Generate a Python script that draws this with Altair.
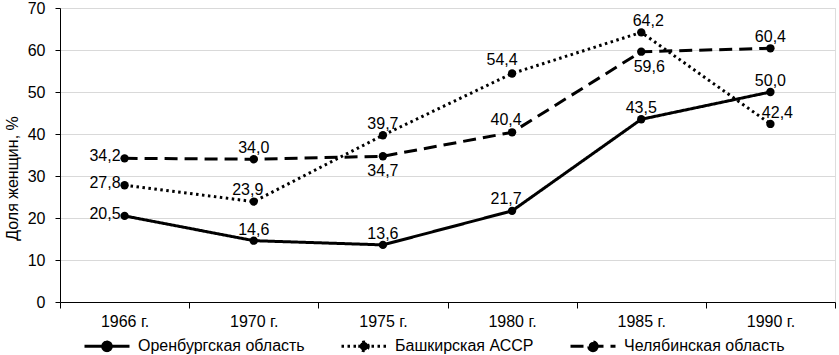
import altair as alt
import pandas as pd

years = ["1966 г.", "1970 г.", "1975 г.", "1980 г.", "1985 г.", "1990 г."]
series_names = ["Оренбургская область", "Башкирская АССР", "Челябинская область"]
orenburg = [20.5, 14.6, 13.6, 21.7, 43.5, 50.0]
bashkir = [27.8, 23.9, 39.7, 54.4, 64.2, 42.4]
chelyab = [34.2, 34.0, 34.7, 40.4, 59.6, 60.4]

rows = []
for si, (name, vals) in enumerate(zip(series_names, [orenburg, bashkir, chelyab])):
    for yi, (yr, v) in enumerate(zip(years, vals)):
        rows.append({"year": yr, "series": name, "value": v,
                     "label": f"{v:.1f}".replace(".", ","), "si": si, "yi": yi})
df = pd.DataFrame(rows)

# label placement styles: key -> (align, dx, dy)
styles = {
    "left": ("right", -4, 3),
    "above": ("center", 0, -6),
    "above_l": ("center", -6, -7),
    "above_ll": ("center", -10, -9),
    "above_r": ("center", 7, -6),
    "below": ("center", 0, 20),
    "below_r": ("center", 8, 20),
}
overrides = {(2, 2): "below", (2, 4): "below_r", (1, 4): "above_r", (2, 3): "above_l",
             (0, 3): "above_l", (1, 1): "above_l", (1, 3): "above_ll",
             (2, 5): "above", (1, 5): "above_r"}
df["place"] = [("left" if r.yi == 0 else overrides.get((r.si, r.yi), "above"))
               for r in df.itertuples()]

FONT = "Liberation Sans"
dash_range = [[1, 0], [2.5, 3.5], [13, 7]]
legend_symbol = ("M-1,0L1,0M0.19,0A0.19,0.19,0,1,1,-0.19,0"
                 "A0.19,0.19,0,1,1,0.19,0Z")

x_enc = alt.X("year:N", sort=years,
              scale=alt.Scale(type="band", paddingInner=0, paddingOuter=0),
              axis=alt.Axis(title=None, tickBand="extent", labelAngle=0,
                            labelFontSize=16, labelFont=FONT, labelColor="black",
                            labelFontWeight="normal",
                            tickSize=6, tickColor="black", domainColor="black",
                            labelPadding=5, grid=False))
y_enc = alt.Y("value:Q", scale=alt.Scale(domain=[0, 70]),
              axis=alt.Axis(values=list(range(0, 71, 10)), title="Доля женщин, %",
                            titleFontSize=16, titleFont=FONT, titleFontWeight="normal",
                            titleColor="black", titleX=-40, titleY=170,
                            labelFontSize=16, labelFont=FONT, labelColor="black",
                            labelFontWeight="normal",
                            tickSize=5, tickColor="black", domainColor="black",
                            labelPadding=10, grid=True, gridColor="#d9d9d9"))

base = alt.Chart(df)

lines = base.mark_line(color="black", strokeWidth=3).encode(
    x=x_enc, y=y_enc,
    strokeDash=alt.StrokeDash("series:N", sort=series_names,
                              scale=alt.Scale(domain=series_names, range=dash_range),
                              legend=alt.Legend(title=None, orient="none", direction="horizontal",
                                                columns=3, columnPadding=30, legendX=23,
                                                legendY=314, padding=0,
                                                symbolType=legend_symbol, symbolSize=2025,
                                                symbolStrokeWidth=3, symbolStrokeColor="black",
                                                symbolFillColor="black", labelFontSize=16,
                                                labelFont=FONT, labelColor="black",
                                                labelLimit=0, labelOffset=7)),
    detail="series:N",
)

points = base.mark_circle(color="black", size=70, opacity=1).encode(x=x_enc, y=y_enc)

layers = [lines, points]
for key, (align, dx, dy) in styles.items():
    layers.append(
        base.transform_filter(alt.datum.place == key)
        .mark_text(align=align, dx=dx, dy=dy, baseline="alphabetic", fontSize=16,
                   font=FONT, color="black")
        .encode(x=x_enc, y=y_enc, text="label:N")
    )

chart = alt.layer(*layers).properties(
    width=775, height=294,
    padding={"left": 60, "top": 8, "right": 4, "bottom": 53},
    autosize=alt.AutoSizeParams(type="none"),
).configure_view(stroke=None).configure(background="white")

chart.save("out.html", embed_options={"renderer": "svg", "actions": False})
